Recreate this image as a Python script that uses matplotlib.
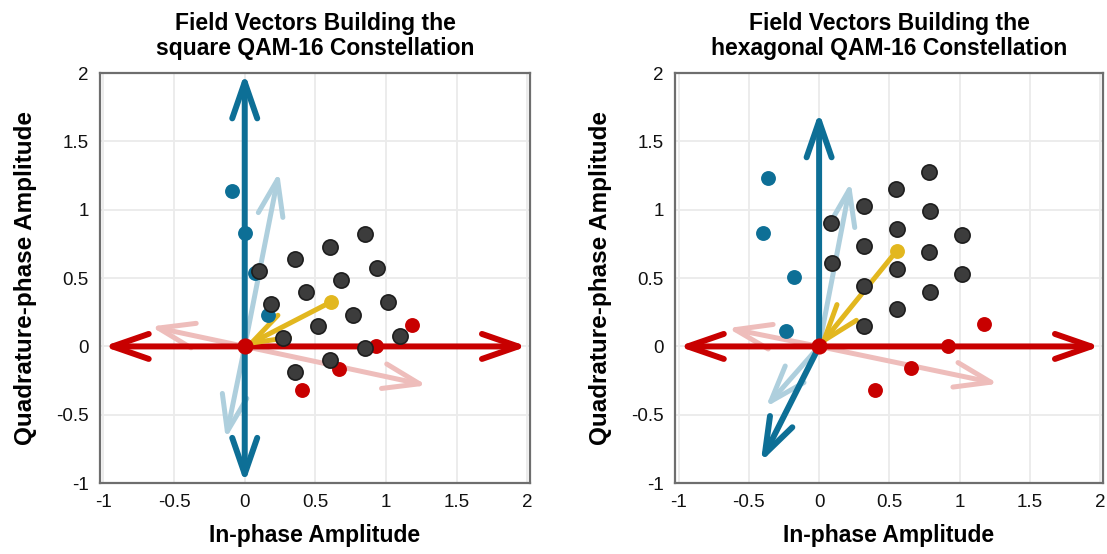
import matplotlib
matplotlib.use("Agg")
import matplotlib.pyplot as plt

BLUE = "#0d6f96"
RED = "#c80000"
LIGHT_BLUE = "#aecfdd"
LIGHT_RED = "#eebdbb"
YELLOW = "#e2b71f"
DOT = "#3c3c3c"
DOT_EDGE = "#1e1e1e"
FRAME = "#6e6e6e"
GRID = "#ebebeb"

plt.rcParams["font.family"] = ["Liberation Sans", "DejaVu Sans"]

# ---- square QAM-16 ----
sq_title = "Field Vectors Building the\nsquare QAM-16 Constellation"
sq_blue_tips = [(0.0, 2.0), (0.0, -1.0)]
sq_red_tips = [(2.0, 0.0), (-1.0, 0.0)]
sq_lblue_tips = [(0.243, 1.276), (-0.134, -0.676)]
sq_lred_tips = [(1.29, -0.285), (-0.665, 0.146)]
sq_yellow = (0.608, 0.324)
sq_blue_x = [-0.092, 0.0, 0.073, 0.165]
sq_blue_y = [1.134, 0.832, 0.539, 0.232]
sq_red_x = [0.403, 0.667, 0.927, 1.186]
sq_red_y = [-0.322, -0.163, 0.0, 0.159]
sq_pts_x = [0.104, 0.186, 0.269, 0.354, 0.354, 0.436, 0.519, 0.601,
            0.601, 0.684, 0.767, 0.849, 0.851, 0.934, 1.017, 1.099]
sq_pts_y = [0.554, 0.307, 0.061, -0.190, 0.641, 0.395, 0.146, -0.102,
            0.729, 0.483, 0.232, -0.012, 0.820, 0.571, 0.324, 0.076]

# ---- hexagonal QAM-16 ----
hx_title = "Field Vectors Building the\nhexagonal QAM-16 Constellation"
hx_blue_tips = [(0.0, 1.715), (-0.415, -0.846)]
hx_red_tips = [(2.0, 0.0), (-1.0, 0.0)]
hx_lblue_tips = [(0.225, 1.202), (-0.380, -0.444)]
hx_lred_tips = [(1.275, -0.273), (-0.650, 0.134)]
hx_yellow = (0.554, 0.702)
hx_blue_x = [-0.362, -0.397, -0.178, -0.235]
hx_blue_y = [1.232, 0.832, 0.510, 0.110]
hx_red_x = [0.399, 0.657, 0.915, 1.174]
hx_red_y = [-0.317, -0.156, 0.0, 0.166]
hx_pts_x = [0.087, 0.089, 0.319, 0.322, 0.322, 0.322, 0.549, 0.552,
            0.552, 0.554, 0.782, 0.786, 0.784, 0.789, 1.014, 1.016]
hx_pts_y = [0.900, 0.612, 1.027, 0.737, 0.439, 0.149, 1.154, 0.863,
            0.563, 0.273, 1.280, 0.990, 0.690, 0.400, 0.817, 0.527]

ticks = [-1, -0.5, 0, 0.5, 1, 1.5, 2]
tick_labels = ["-1", "-0.5", "0", "0.5", "1", "1.5", "2"]


def arrow(ax, start, end, color, lw, z):
    ax.annotate("", xy=end, xytext=start,
                arrowprops=dict(arrowstyle="->,head_length=1.3,head_width=0.45",
                                color=color, lw=lw, shrinkA=0, shrinkB=0,
                                mutation_scale=20, capstyle="round",
                                joinstyle="round"),
                zorder=z)


def panel(ax, title, blue_tips, red_tips, lblue_tips, lred_tips, yellow,
          bx, by, rx, ry, px, py):
    for tip in lblue_tips:
        arrow(ax, (0, 0), tip, LIGHT_BLUE, 3.6, 2)
    for tip in lred_tips:
        arrow(ax, (0, 0), tip, LIGHT_RED, 3.6, 2)
    for tip in blue_tips:
        arrow(ax, (0, 0), tip, BLUE, 4.3, 3)
    for tip in red_tips:
        arrow(ax, (0, 0), tip, RED, 4.3, 3)
    arrow(ax, yellow, (0, 0), YELLOW, 3.6, 4)

    ax.scatter(bx, by, s=115, color=BLUE, zorder=5, linewidths=0)
    ax.scatter(rx, ry, s=115, color=RED, zorder=5, linewidths=0)
    ax.scatter(px, py, s=120, color=DOT, edgecolors=DOT_EDGE,
               linewidths=1.2, zorder=6)
    ax.scatter([yellow[0]], [yellow[1]], s=115, color=YELLOW, zorder=7,
               linewidths=0)
    ax.scatter([0], [0], s=135, color=RED, zorder=8, linewidths=0)

    ax.set_xlim(-1.025, 2.02)
    ax.set_ylim(-1.0, 2.0)
    ax.set_xticks(ticks)
    ax.set_xticklabels(tick_labels)
    ax.set_yticks(ticks)
    ax.set_yticklabels(tick_labels)
    ax.tick_params(length=0, labelsize=13.5, pad=8, colors="#111111")
    ax.grid(True, color=GRID, linewidth=1.3, zorder=0)
    ax.set_axisbelow(True)
    for s in ax.spines.values():
        s.set_color(FRAME)
        s.set_linewidth(1.6)
    ax.set_title(title, fontsize=16.5, fontweight="bold", pad=13, linespacing=1.1)
    ax.set_xlabel("In-phase Amplitude", fontsize=16.5, fontweight="bold", labelpad=9)
    ax.set_ylabel("Quadrature-phase Amplitude", fontsize=17.5, fontweight="bold",
                  labelpad=14)


fig = plt.figure(figsize=(11.07, 5.54), dpi=100)
ax1 = fig.add_axes([0.0903, 0.128, 0.3885, 0.740])
ax2 = fig.add_axes([0.6098, 0.128, 0.3866, 0.740])

panel(ax1, sq_title, sq_blue_tips, sq_red_tips, sq_lblue_tips, sq_lred_tips,
      sq_yellow, sq_blue_x, sq_blue_y, sq_red_x, sq_red_y, sq_pts_x, sq_pts_y)
panel(ax2, hx_title, hx_blue_tips, hx_red_tips, hx_lblue_tips, hx_lred_tips,
      hx_yellow, hx_blue_x, hx_blue_y, hx_red_x, hx_red_y, hx_pts_x, hx_pts_y)

fig.savefig("out.png", dpi=100)
